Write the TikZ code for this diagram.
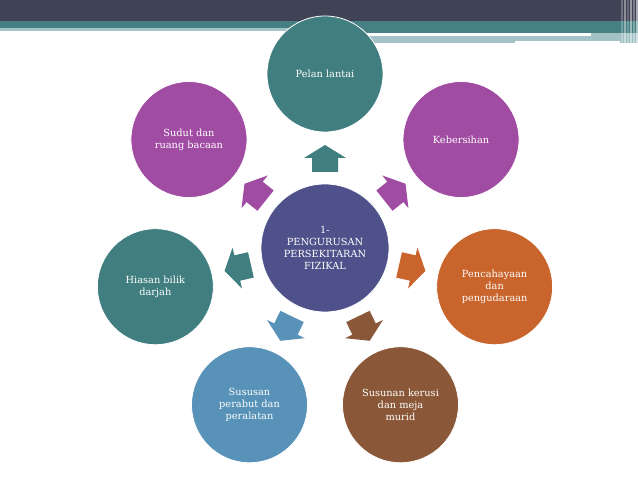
\documentclass[tikz,border=0pt]{standalone}
\usepackage{fontspec}
\setmainfont{DejaVu Serif}
\definecolor{bardark}{RGB}{64,67,86}
\definecolor{barteal}{RGB}{70,128,131}
\definecolor{barlight}{RGB}{163,194,197}
\definecolor{cteal}{RGB}{64,126,128}
\definecolor{cmag}{RGB}{160,76,162}
\definecolor{corange}{RGB}{200,100,44}
\definecolor{cbrown}{RGB}{138,88,56}
\definecolor{cblue}{RGB}{88,146,184}
\definecolor{cnavy}{RGB}{79,81,138}
\begin{document}
\begin{tikzpicture}[x=1pt,y=1pt,
  circ/.style={circle, draw=white, line width=0.8pt, minimum size=116pt, inner sep=0pt,
    text=white, align=center, font=\fontsize{9.8}{11.8}\selectfont},
  hubcirc/.style={circ, minimum size=128pt}]
\useasboundingbox (0,0) rectangle (638,479);
\fill[white] (0,0) rectangle (638,479);
% top bar
\fill[bardark] (0,458) rectangle (638,479);
\fill[barteal] (0,451) rectangle (638,458);
\fill[barlight] (0,448) rectangle (325,451);
\fill[barteal] (325,446) rectangle (620,451);
\fill[barlight] (325,436) rectangle (620,446);
\fill[white] (325,442.7) rectangle (591,445.7);
\fill[white] (515,436) rectangle (625,438);
\fill[barteal] (620,446) rectangle (638,458);
\fill[barlight] (620,436) rectangle (638,446);
\foreach \xx/\op in {621/0.25,624/0.4,627/0.2,630/0.45,633/0.3,636/0.55}
  \fill[white, opacity=\op] (\xx,436) rectangle ++(1.5,43);
% hub
\node[hubcirc, fill=cnavy] (c) at (325,231) {1-\\PENGURUSAN\\PERSEKITARAN\\FIZIKAL};
% outer circles
\node[circ, fill=cteal]   (n1) at ([shift={(90:174pt)}]c.center) {Pelan lantai};
\node[circ, fill=cmag]    (n2) at ([shift={(38.571:174pt)}]c.center) {Kebersihan};
\node[circ, fill=corange] (n3) at ([shift={(-12.857:174pt)}]c.center) {Pencahayaan\\dan\\pengudaraan};
\node[circ, fill=cbrown]  (n4) at ([shift={(-64.286:174pt)}]c.center) {Susunan kerusi\\dan meja\\murid};
\node[circ, fill=cblue]   (n5) at ([shift={(-115.714:174pt)}]c.center) {Sususan\\perabut dan\\peralatan};
\node[circ, fill=cteal]   (n6) at ([shift={(-167.143:174pt)}]c.center) {Hiasan bilik\\darjah};
\node[circ, fill=cmag]    (n7) at ([shift={(141.429:174pt)}]c.center) {Sudut dan\\ruang bacaan};
% block arrows
\foreach \a/\col in {90/cteal, 38.571/cmag, -12.857/corange, -64.286/cbrown,
                     -115.714/cblue, -167.143/cteal, 141.429/cmag}
  \fill[\col, shift={(c.center)}, rotate=\a]
    (76,-13) -- (90,-13) -- (90,-21) -- (103,0) -- (90,21) -- (90,13) -- (76,13) -- cycle;
\end{tikzpicture}
\end{document}
